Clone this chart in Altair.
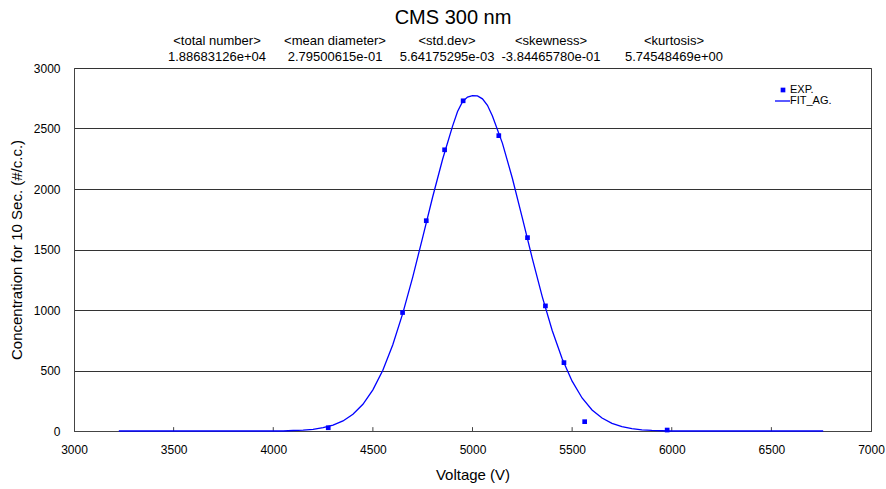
import altair as alt
import pandas as pd

FONT = "Liberation Sans"

# Measured concentrations (EXP.)
exp_voltage = [4276, 4649, 4768, 4860, 4953, 5132, 5276, 5366, 5459, 5563, 5977]
exp_conc = [27, 979, 1738, 2324, 2729, 2441, 1598, 1034, 565, 77, 8]

# Fitted distribution (FIT_AG.)
fit_voltage = [3225, 4050, 4100, 4150, 4200, 4250, 4300, 4350, 4400, 4450, 4500,
               4550, 4600, 4650, 4700, 4750, 4800, 4850, 4900, 4925, 4950, 4975, 5000,
               5025, 5050, 5075, 5100, 5150, 5200, 5250, 5300, 5350, 5400, 5450, 5500,
               5550, 5600, 5650, 5700, 5750, 5800, 5850, 5900, 5950, 6000, 6760]
fit_conc = [0, 0, 4, 7, 14, 27, 48, 83, 139, 221, 340,
            502, 713, 972, 1272, 1600, 1934, 2246, 2520, 2640, 2722, 2760, 2772,
            2770, 2745, 2692, 2604, 2379, 2089, 1761, 1427, 1111, 831, 597, 412,
            273, 174, 107, 63, 36, 19, 10, 5, 2, 0, 0]

stat_names = ["<total number>", "<mean diameter>", "<std.dev>", "<skewness>", "<kurtosis>"]
stat_values = ["1.88683126e+04", "2.79500615e-01", "5.64175295e-03",
               "-3.84465780e-01", "5.74548469e+00"]

x_ticks = [3000, 3500, 4000, 4500, 5000, 5500, 6000, 6500, 7000]
y_ticks = [0, 500, 1000, 1500, 2000, 2500, 3000]

# layout (pixels, relative to the plot area)
W, H = 797, 363
stat_cols_px = [143, 261, 373, 477, 600]
title_px = 379

exp_df = pd.DataFrame({"v": exp_voltage, "c": exp_conc})
fit_df = pd.DataFrame({"v": fit_voltage, "c": fit_conc})
tick_df = pd.DataFrame({"v": x_ticks[1:-1]})

x_scale = alt.Scale(domain=[3000, 7000], nice=False, zero=False)
y_scale = alt.Scale(domain=[0, 3000], nice=False)

x_enc = alt.X("v:Q", scale=x_scale,
              axis=alt.Axis(values=x_ticks, grid=False, ticks=False, labelPadding=13,
                            labelFlush=False, labelOverlap=False,
                            titlePadding=12, title="Voltage (V)", format="d"))
y_enc = alt.Y("c:Q", scale=y_scale,
              axis=alt.Axis(values=y_ticks, grid=True, gridColor="#333333", ticks=False,
                            labelPadding=14, titlePadding=9, format="d",
                            labelFlush=False, labelOverlap=False,
                            title="Concentration for 10 Sec. (#/c.c.)"))

BLUE = "#0000ff"

fit_line = alt.Chart(fit_df).mark_line(color=BLUE, strokeWidth=1.3).encode(x=x_enc, y=y_enc)
exp_pts = alt.Chart(exp_df).mark_square(color=BLUE, size=22, opacity=1).encode(x="v:Q", y="c:Q")

# small inward ticks along the voltage axis
inner_ticks = alt.Chart(tick_df).mark_rule(color="#444444").encode(
    x="v:Q", y=alt.datum(0), y2=alt.datum(32))

one = pd.DataFrame({"k": [0]})
layers = [inner_ticks, fit_line, exp_pts]

# title and statistics header
layers.append(alt.Chart(one).mark_text(text="CMS 300 nm", font=FONT, fontSize=20,
                                       align="center", baseline="middle", color="black")
              .encode(x=alt.value(title_px), y=alt.value(-50)))
for px, name, val in zip(stat_cols_px, stat_names, stat_values):
    layers.append(alt.Chart(one).mark_text(text=name, font=FONT, fontSize=13,
                                           align="center", baseline="middle", color="black")
                  .encode(x=alt.value(px), y=alt.value(-27)))
    layers.append(alt.Chart(one).mark_text(text=val, font=FONT, fontSize=13,
                                           align="center", baseline="middle", color="black")
                  .encode(x=alt.value(px), y=alt.value(-11)))

# legend
layers.append(alt.Chart(one).mark_square(color=BLUE, size=22, opacity=1)
              .encode(x=alt.value(709), y=alt.value(22)))
layers.append(alt.Chart(one).mark_text(text="EXP.", font=FONT, fontSize=11, align="left",
                                       baseline="middle", color="black")
              .encode(x=alt.value(716), y=alt.value(22)))
layers.append(alt.Chart(one).mark_rule(color=BLUE, strokeWidth=1.3)
              .encode(x=alt.value(701), x2=alt.value(716), y=alt.value(33)))
layers.append(alt.Chart(one).mark_text(text="FIT_AG.", font=FONT, fontSize=11, align="left",
                                       baseline="middle", color="black")
              .encode(x=alt.value(716), y=alt.value(33)))

chart = (
    alt.layer(*layers)
    .properties(width=W, height=H, background="white",
                autosize=alt.AutoSizeParams(type="none"),
                padding={"left": 74, "top": 68, "right": 15, "bottom": 58})
    .configure_view(stroke="#444444", strokeWidth=1)
    .configure_axis(labelFont=FONT, labelFontSize=12, labelColor="black",
                    titleFont=FONT, titleFontSize=15, titleFontWeight="normal",
                    titleColor="black", domainColor="#444444")
)

chart.save("out.html", embed_options={"renderer": "svg", "actions": False})
